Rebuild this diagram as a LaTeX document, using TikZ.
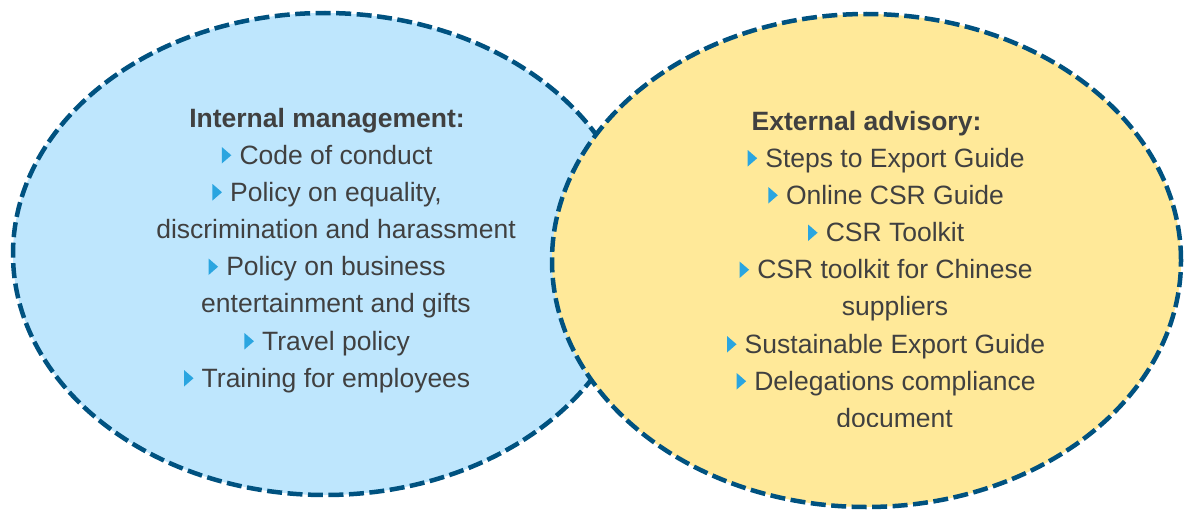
\documentclass[tikz,border=0pt]{standalone}
\usepackage{fontspec}
\setmainfont{Liberation Sans}
\definecolor{edge}{RGB}{0,82,128}
\definecolor{bluefill}{RGB}{190,230,253}
\definecolor{yellowfill}{RGB}{255,233,153}
\definecolor{txt}{RGB}{64,64,64}
\definecolor{bulc}{RGB}{42,165,224}
\newcommand{\blt}[1]{\fill[bulc] ([xshift=-17.5pt,yshift=0.5pt]#1.base west) -- ++(0,-16.5) -- ++(9.5,8.25) -- cycle;}
\begin{document}
\begin{tikzpicture}[x=1pt,y=-1pt,
  venn/.style={line width=4.5pt, draw=edge, dash pattern=on 15pt off 5.5pt},
  lbl/.style={anchor=base, inner sep=0pt, text=txt, font=\fontsize{26.5}{37}\selectfont},
  head/.style={lbl, font=\fontsize{26.5}{37}\selectfont\bfseries}]
\useasboundingbox (0,0) rectangle (1184,511);
\fill[white] (0,0) rectangle (1184,511);
\path[venn, fill=bluefill] (325,254) ellipse [x radius=312pt, y radius=241pt];
\path[venn, fill=yellowfill] (866.5,260.5) ellipse [x radius=314.5pt, y radius=246.5pt];

\node[head] (ih) at (327,127) {Internal management:};
\node[lbl] (i1) at (336,164) {Code of conduct};
\node[lbl] (i2) at (336,201) {Policy on equality,};
\node[lbl] (i2b) at (336,238) {discrimination and harassment};
\node[lbl] (i3) at (336,275.5) {Policy on business};
\node[lbl] (i3b) at (336,312.5) {entertainment and gifts};
\node[lbl] (i4) at (336,350) {Travel policy};
\node[lbl] (i5) at (336,387) {Training for employees};
\blt{i1}\blt{i2}\blt{i3}\blt{i4}\blt{i5}

\node[head] (eh) at (866.5,130) {External advisory:};
\node[lbl] (e1) at (895,167) {Steps to Export Guide};
\node[lbl] (e2) at (895,204) {Online CSR Guide};
\node[lbl] (e3) at (895,241.5) {CSR Toolkit};
\node[lbl] (e4) at (895,278.5) {CSR toolkit for Chinese};
\node[lbl] (e4b) at (895,315.5) {suppliers};
\node[lbl] (e5) at (895,353) {Sustainable Export Guide};
\node[lbl] (e6) at (895,390) {Delegations compliance};
\begin{scope}
\clip (700,380) rectangle (1100,426);
\node[lbl] (e6b) at (894.5,427) {document};
\end{scope}
\blt{e1}\blt{e2}\blt{e3}\blt{e4}\blt{e5}\blt{e6}
\end{tikzpicture}
\end{document}
